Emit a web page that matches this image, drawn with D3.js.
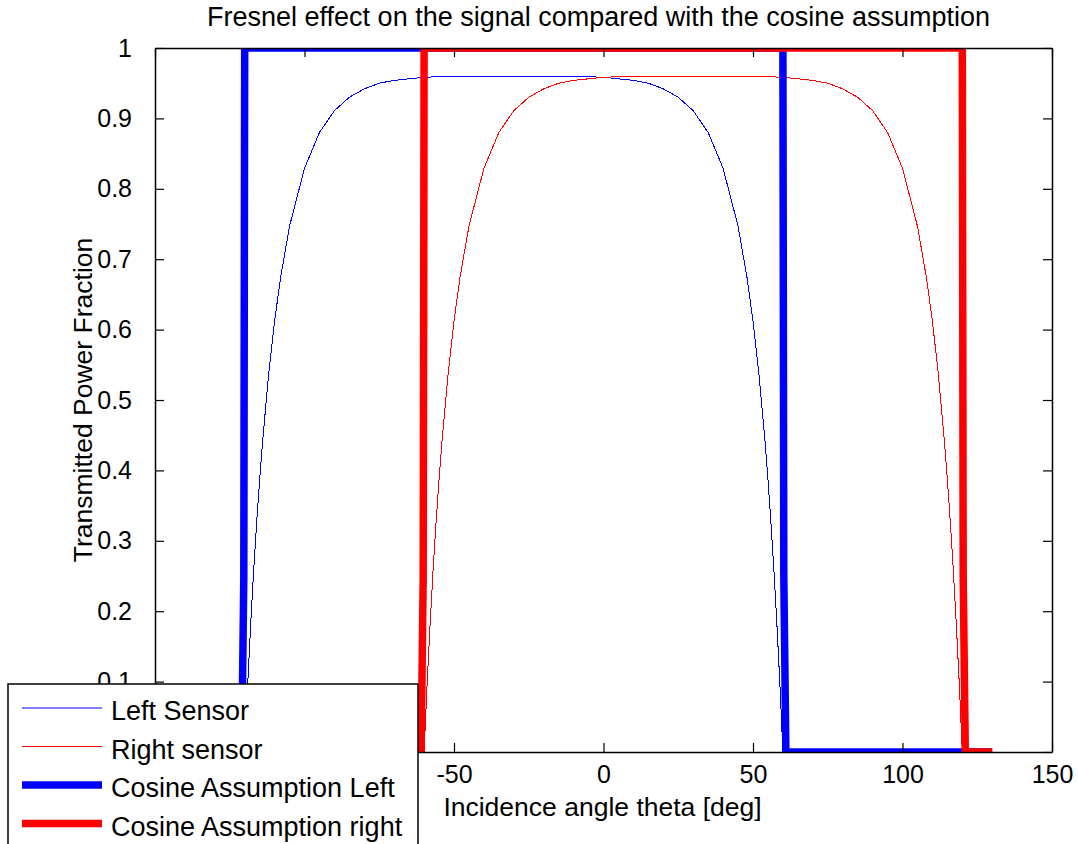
<!DOCTYPE html>
<html>
<head>
<meta charset="utf-8">
<script src="https://cdn.jsdelivr.net/npm/d3@7"></script>
<style>
  body { margin: 0; background: #fff; }
  svg { display: block; font-family: "Liberation Sans", Arial, sans-serif; }
</style>
</head>
<body>
<svg id="chart" width="1078" height="844"></svg>
<script>
// incidence angle theta [deg] for each sensor curve
const leftTheta = [-130, -120, -119, -118, -117, -116, -115, -114, -112, -110, -108, -105, -100, -95, -90, -85, -80, -75, -70, -60, -50, -40, -30, -20, -10, 0, 10, 15, 20, 25, 30, 35, 40, 45, 48, 50, 52, 54, 55, 56, 57, 58, 59, 60, 130];
const rightTheta = [-130, -60, -59, -58, -57, -56, -55, -54, -52, -50, -48, -45, -40, -35, -30, -25, -20, -15, -10, 0, 10, 20, 30, 40, 50, 60, 70, 75, 80, 85, 90, 95, 100, 105, 108, 110, 112, 114, 115, 116, 117, 118, 119, 120, 130];
// transmitted power fraction (same for both sensors, shifted)
const sensorPower = [0, 0, 0.096, 0.181, 0.258, 0.326, 0.387, 0.442, 0.536, 0.612, 0.674, 0.747, 0.829, 0.880, 0.911, 0.930, 0.942, 0.950, 0.954, 0.9585, 0.9597, 0.960, 0.960, 0.960, 0.9597, 0.9585, 0.954, 0.950, 0.942, 0.930, 0.911, 0.880, 0.829, 0.747, 0.674, 0.612, 0.536, 0.442, 0.387, 0.326, 0.258, 0.181, 0.096, 0, 0];

// cosine assumption step curves
const cosLeftTheta = [-130, -121, -120.3, -120.1, -120, 60, 60.1, 60.3, 61, 130];
const cosLeftValue = [0, 0, 0.25, 0.75, 1, 1, 0.75, 0.25, 0, 0];
const cosRightTheta = [-130, -61, -60.3, -60.1, -60, 120, 120.1, 120.3, 121, 130];
const cosRightValue = [0, 0, 0.25, 0.75, 1, 1, 0.75, 0.25, 0, 0];

const xTicks = [-150, -100, -50, 0, 50, 100, 150];
// labels hidden behind the legend are left blank
const xTickLabels = ["", "", "-50", "0", "50", "100", "150"];
const yTicks = [0, 0.1, 0.2, 0.3, 0.4, 0.5, 0.6, 0.7, 0.8, 0.9, 1];
const yTickLabels = ["", "0.1", "0.2", "0.3", "0.4", "0.5", "0.6", "0.7", "0.8", "0.9", "1"];

const legendNames = ["Left Sensor", "Right sensor", "Cosine Assumption Left", "Cosine Assumption right"];
const seriesColors = ["#0000ff", "#ff0000", "#0000ff", "#ff0000"];
const seriesWidths = [1, 1, 7.5, 7.5];

const titleText = "Fresnel effect on the signal compared with the cosine assumption";
const xLabel = "Incidence angle theta [deg]";
const yLabel = "Transmitted Power Fraction";

const svg = d3.select("#chart");
const plotLeft = 155, plotRight = 1052, plotTop = 48, plotBottom = 752;

const xScale = d3.scaleLinear().domain([-150, 150]).range([plotLeft, plotRight]);
const yScale = d3.scaleLinear().domain([0, 1]).range([plotBottom, plotTop]);

svg.append("clipPath").attr("id", "plotClip")
    .append("rect").attr("x", plotLeft).attr("y", plotTop)
    .attr("width", plotRight - plotLeft).attr("height", plotBottom - plotTop);

const series = [
    leftTheta.map((t, i) => ({ x: t, y: sensorPower[i] })),
    rightTheta.map((t, i) => ({ x: t, y: sensorPower[i] })),
    cosLeftTheta.map((t, i) => ({ x: t, y: cosLeftValue[i] })),
    cosRightTheta.map((t, i) => ({ x: t, y: cosRightValue[i] }))
];

const line = d3.line()
    .x(function(d) { return xScale(d.x) })
    .y(function(d) { return yScale(d.y) });

const plot = svg.append("g").attr("clip-path", "url(#plotClip)");
series.forEach(function(data, k) {
    plot.append("path")
        .datum(data)
        .attr("fill", "none")
        .attr("stroke", seriesColors[k])
        .attr("stroke-width", seriesWidths[k])
        .attr("shape-rendering", k < 2 ? "crispEdges" : "auto")
        .attr("d", line);
});

// axes, ticks pointing inward, box on all four sides
const tickLen = 9;
const axisFont = "25px";

const gx = svg.append("g").attr("transform", "translate(0," + plotBottom + ")")
    .call(d3.axisBottom(xScale).tickValues(xTicks).tickFormat((d, i) => xTickLabels[i]).tickSize(-tickLen).tickPadding(13).tickSizeOuter(0));
const gy = svg.append("g").attr("transform", "translate(" + plotLeft + ",0)")
    .call(d3.axisLeft(yScale).tickValues(yTicks).tickFormat((d, i) => yTickLabels[i]).tickSize(-tickLen).tickPadding(23).tickSizeOuter(0));
const gt = svg.append("g").attr("transform", "translate(0," + plotTop + ")")
    .call(d3.axisTop(xScale).tickValues(xTicks).tickFormat("").tickSize(-tickLen).tickSizeOuter(0));
const gr = svg.append("g").attr("transform", "translate(" + plotRight + ",0)")
    .call(d3.axisRight(yScale).tickValues(yTicks).tickFormat("").tickSize(-tickLen).tickSizeOuter(0));

[gx, gy, gt, gr].forEach(function(g) {
    g.selectAll(".domain").attr("stroke", "#000").attr("stroke-width", 1.5);
    g.selectAll(".tick line").attr("stroke", "#000").attr("stroke-width", 1.2);
    g.selectAll(".tick text").attr("fill", "#000")
        .style("font-size", axisFont)
        .style("font-family", "'Liberation Sans', Arial, sans-serif");
});

// titles
svg.append("text")
    .attr("x", (plotLeft + plotRight) / 2 - 5).attr("y", 26)
    .attr("text-anchor", "middle")
    .style("font-size", "27px")
    .text(titleText);

svg.append("text")
    .attr("x", (plotLeft + plotRight) / 2 - 1).attr("y", 816)
    .attr("text-anchor", "middle")
    .style("font-size", "26.5px")
    .text(xLabel);

svg.append("text")
    .attr("transform", "translate(92,400) rotate(-90)")
    .attr("text-anchor", "middle")
    .style("font-size", "26.5px")
    .text(yLabel);

// legend in the lower left corner, running off the bottom of the figure
const legend = svg.append("g");
legend.append("rect")
    .attr("x", 8).attr("y", 684)
    .attr("width", 410).attr("height", 200)
    .attr("fill", "#fff")
    .attr("stroke", "#000")
    .attr("stroke-width", 1.5);

legendNames.forEach(function(name, k) {
    const rowY = 708 + k * 38.5;
    legend.append("line")
        .attr("x1", 22).attr("x2", 102)
        .attr("y1", rowY).attr("y2", rowY)
        .attr("stroke", seriesColors[k])
        .attr("stroke-width", seriesWidths[k]);
    legend.append("text")
        .attr("x", 111).attr("y", rowY + 3)
        .attr("dominant-baseline", "central")
        .style("font-size", "27px")
        .text(name);
});
</script>
</body>
</html>
